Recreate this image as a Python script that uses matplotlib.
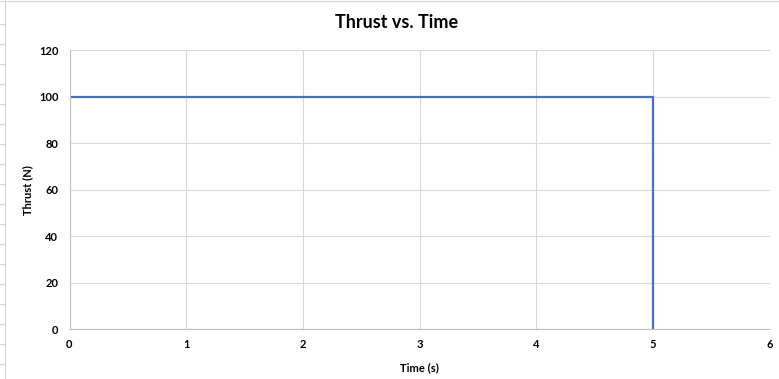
import matplotlib

matplotlib.use("Agg")
import matplotlib.pyplot as plt
from matplotlib.lines import Line2D

# thrust profile: constant 100 N burn for 5 s, then cut-off
time_s = [0, 5, 5]
thrust_n = [100, 100, 0]

x_ticks = [0, 1, 2, 3, 4, 5, 6]
y_ticks = [0, 20, 40, 60, 80, 100, 120]

plt.rcParams["font.family"] = ["Lato", "DejaVu Sans"]

W, H = 779, 379
fig = plt.figure(figsize=(W / 100, H / 100), dpi=100, facecolor="white")
ax = fig.add_axes([69.5 / W, (H - 329.3) / H, 700 / W, 279 / H])

ax.plot(time_s, thrust_n, color="#4472C4", lw=1.6, solid_joinstyle="miter")

ax.set_xlim(0, 6)
ax.set_ylim(0, 120)
ax.set_xticks(x_ticks)
ax.set_yticks(y_ticks)
ax.grid(True, color="#D9D9D9", lw=0.8)
ax.set_axisbelow(True)
ax.tick_params(length=0, labelsize=8)
ax.tick_params(axis="y", pad=8)
ax.tick_params(axis="x", pad=7)
for lab in ax.get_xticklabels() + ax.get_yticklabels():
    lab.set_fontweight("bold")
for s in ("top", "right"):
    ax.spines[s].set_visible(False)
for s in ("left", "bottom"):
    ax.spines[s].set_color("#BFBFBF")
    ax.spines[s].set_linewidth(0.8)

ax.set_xlabel("Time (s)", fontsize=8, fontweight="bold", labelpad=9)
ax.set_ylabel("Thrust (N)", fontsize=8, fontweight="bold", labelpad=4)
fig.text(397 / W, 1 - 22 / H, "Thrust vs. Time", ha="center", va="center",
         fontsize=13, fontweight="bold")

# spreadsheet cell borders peeking in at the left and top edges
fig.add_artist(Line2D([4.5 / W, 4.5 / W], [0, 1], color="#D4D4D4", lw=0.8))
fig.add_artist(Line2D([0, 1], [1 - 0.5 / H, 1 - 0.5 / H], color="#D4D4D4", lw=0.8))
for y in range(24, H, 20):
    fig.add_artist(Line2D([0, 4.5 / W], [1 - y / H, 1 - y / H], color="#D4D4D4", lw=0.8))

fig.savefig("out.png", dpi=100, facecolor="white")
